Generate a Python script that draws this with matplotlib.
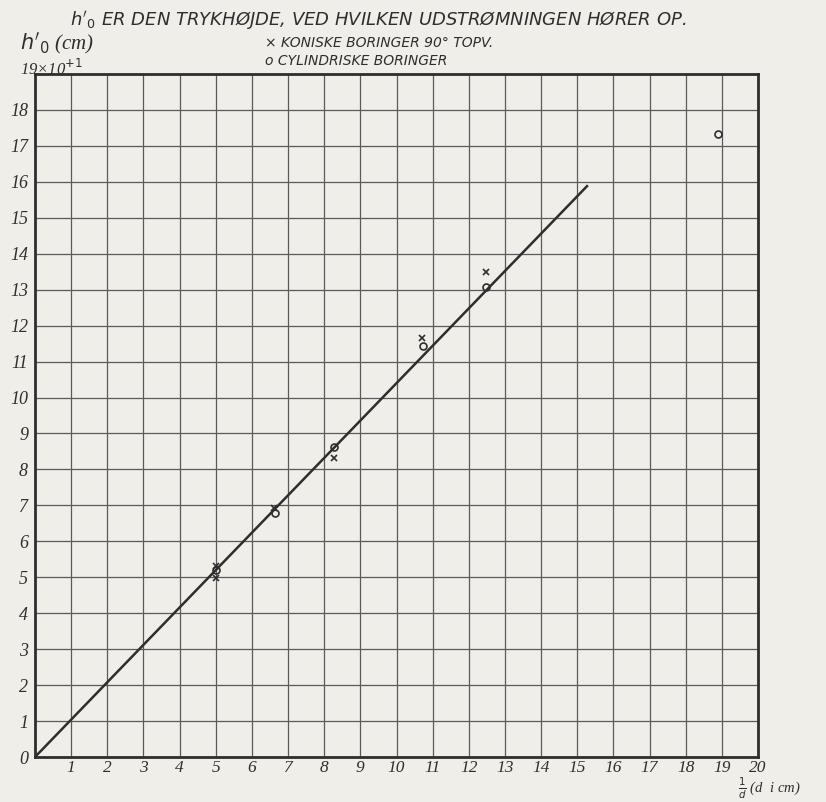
import matplotlib
matplotlib.use("Agg")
import matplotlib.pyplot as plt

# Data
conical_x = [5.0, 5.0, 6.62, 8.27, 10.70, 12.48]
conical_y = [5.32, 4.97, 6.93, 8.31, 11.65, 13.50]
cyl_x = [5.0, 6.64, 8.27, 10.72, 12.48, 18.88]
cyl_y = [5.20, 6.80, 8.63, 11.44, 13.08, 17.32]
fit_x = [0.0, 15.27]
fit_y = [0.0, 15.88]
x_ticks = list(range(1, 21))
y_ticks = list(range(0, 19))

paper = "#efeee9"
ink = "#2e2e2e"

fig = plt.figure(figsize=(8.26, 8.02), dpi=100, facecolor=paper)
ax = fig.add_axes([35/826, 1 - 757/802, (758-35)/826, (757-74)/802])
ax.set_facecolor(paper)
ax.set_xlim(0, 20)
ax.set_ylim(0, 19)

ax.set_xticks(x_ticks)
ax.set_yticks(y_ticks)
ax.grid(True, color="#5a5a5a", linewidth=0.9)
ax.set_axisbelow(True)
for s in ax.spines.values():
    s.set_color(ink)
    s.set_linewidth(2.0)

tick_font = dict(family="Liberation Serif", style="italic", size=13, color=ink)
ax.set_xticklabels([str(v) for v in x_ticks], size=12.5,
                   **{k: v for k, v in tick_font.items() if k != "size"})
ax.set_yticklabels([str(v) for v in y_ticks], **tick_font)
ax.tick_params(axis="both", length=0)
ax.tick_params(axis="x", pad=2)
ax.tick_params(axis="y", pad=5)

ax.plot(fit_x, fit_y, color=ink, linewidth=1.8, zorder=3)
ax.plot(conical_x, conical_y, linestyle="none", marker="x", markersize=5,
        markeredgewidth=1.2, color=ink, zorder=4)
ax.plot(cyl_x, cyl_y, linestyle="none", marker="o", markersize=5,
        markerfacecolor="none", markeredgewidth=1.2, color=ink, zorder=4)

lab = dict(family="DejaVu Sans", style="italic", color=ink)
fig.text(70/826, 1 - 20/802, r"$h'_0$ ER DEN TRYKHØJDE, VED HVILKEN UDSTRØMNINGEN HØRER OP.",
         ha="left", va="center", size=13, **lab)
fig.text(265/826, 1 - 43/802, "× KONISKE BORINGER 90° TOPV.",
         ha="left", va="center", size=10, **lab)
fig.text(265/826, 1 - 61/802, "o CYLINDRISKE BORINGER",
         ha="left", va="center", size=10, **lab)
fig.text(20/826, 1 - 44/802, r"$h'_0$ (cm)", ha="left", va="center",
         family="Liberation Serif", style="italic", size=15, color=ink)
fig.text(20/826, 1 - 69/802, r"19×10$^{+1}$", ha="left", va="center",
         family="Liberation Serif", style="italic", size=12, color=ink)
fig.text(738/826, 1 - 801/802, r"$\frac{1}{d}$ (d  i cm)", ha="left", va="bottom",
         family="Liberation Serif", style="italic", size=10.5, color=ink)

fig.savefig("out.png", dpi=100, facecolor=paper)
